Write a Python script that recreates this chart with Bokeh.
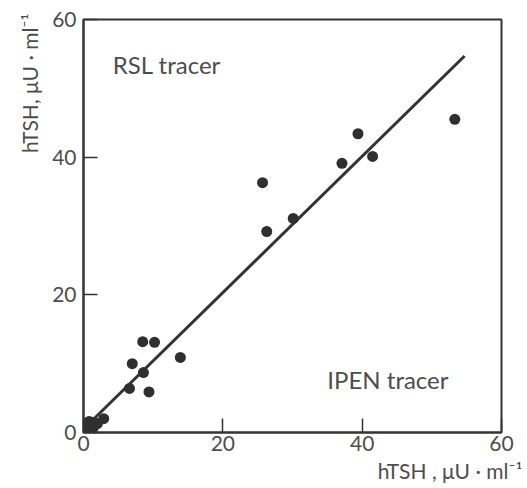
from bokeh.plotting import figure
from bokeh.models import Label, Range1d, FixedTicker, Title
from bokeh.embed import file_html
from bokeh.resources import INLINE

# hTSH measured with IPEN tracer (x) vs RSL tracer (y), µU/ml
ipen_x = [0.4, 0.8, 1.4, 1.2, 0.5, 2.0, 2.9,
          6.6, 9.4, 8.6, 7.0, 13.9, 8.5, 10.2,
          26.3, 25.7, 30.1, 37.1, 39.4, 41.5, 53.3]
rsl_y = [0.4, 1.6, 0.7, 1.5, 1.1, 1.3, 2.0,
         6.4, 5.9, 8.7, 10.0, 10.9, 13.2, 13.1,
         29.2, 36.3, 31.1, 39.1, 43.4, 40.1, 45.5]

fit_x = [0.3, 54.7]
fit_y = [0.8, 54.7]

x_ticks = [0, 20, 40, 60]
y_ticks = [0, 20, 40, 60]

x_title = "hTSH , μU · ml⁻¹"
y_title = "hTSH, μU · ml⁻¹"

INK = "#333333"
TXT = "#4d4d4d"
FONT = "Lato"

p = figure(width=527, height=488, output_backend="svg", toolbar_location=None,
           x_range=Range1d(0, 60), y_range=Range1d(0, 60),
           min_border_left=83, min_border_right=26,
           min_border_top=19, min_border_bottom=56)

p.grid.visible = False
p.outline_line_color = INK
p.outline_line_width = 2

for ax in (p.xaxis[0], p.yaxis[0]):
    ax.axis_line_color = INK
    ax.axis_line_width = 2
    ax.major_tick_line_color = INK
    ax.major_tick_line_width = 1.5
    ax.major_tick_in = 14
    ax.major_tick_out = 0
    ax.minor_tick_line_color = None
    ax.major_label_text_font = FONT
    ax.major_label_text_font_size = "21px"
    ax.major_label_text_color = TXT
p.xaxis.ticker = FixedTicker(ticks=x_ticks)
p.yaxis.ticker = FixedTicker(ticks=y_ticks)
p.xaxis.major_label_standoff = 3
p.yaxis.major_label_standoff = 7

p.add_layout(Title(text=x_title, align="right", offset=-21, standoff=5,
                   text_font=FONT, text_font_size="21px", text_font_style="normal",
                   text_color=TXT), "below")
p.add_layout(Title(text=y_title, align="right", offset=-6, standoff=16,
                   text_font=FONT, text_font_size="21px", text_font_style="normal",
                   text_color=TXT), "left")

p.line(fit_x, fit_y, line_color=INK, line_width=3)
p.scatter(ipen_x, rsl_y, size=11, fill_color="#2f2f2f", line_color=None)

def lab(x, y, text):
    p.add_layout(Label(x=x, y=y, text=text, text_font=FONT, text_font_size="24px",
                       text_color=TXT, text_align="left", text_baseline="middle"))

lab(4.2, 53.5, "RSL tracer")
lab(35.0, 7.7, "IPEN tracer")

open("out.html", "w").write(file_html(p, INLINE))
